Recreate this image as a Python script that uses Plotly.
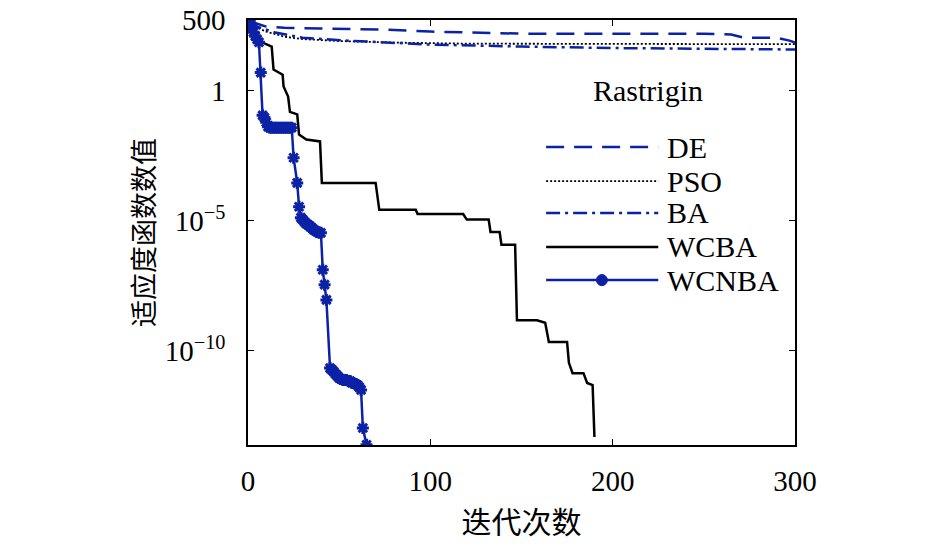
import plotly.graph_objects as go

# convergence curves (Rastrigin)
de_iter = [1, 5, 10, 20, 40, 75, 100, 120, 150, 250, 265, 272, 290, 297, 300]
de_val = [500, 360, 280, 255, 235, 215, 180, 165, 150, 150, 138, 105, 105, 81, 68]

pso_iter = [1, 5, 10, 20, 30, 50, 80, 120, 300]
pso_val = [500, 255, 180, 115, 93, 78, 68, 62, 59]

ba_iter = [1, 5, 15, 30, 55, 75, 100, 150, 200, 300]
ba_val = [500, 280, 165, 105, 81, 68, 57, 48, 42, 37]

wcba_iter = [1, 8, 13, 14, 19, 19.5, 22, 23, 27, 28, 32, 39.5, 40.5, 70, 72, 92, 93,
             118, 120, 132, 133, 138, 139, 146.5, 147.5, 158.5, 163, 165, 175, 176,
             178, 184, 186, 189, 190]
wcba_val = [500, 68, 48, 6.3, 4.0, 1.4, 0.58, 0.15, 0.12, 0.02, 0.013, 0.011, 2.8e-4,
            2.8e-4, 2.6e-5, 2.6e-5, 1.8e-5, 1.8e-5, 1.1e-5, 1.1e-5, 3.7e-6, 3.7e-6,
            1.2e-6, 1.2e-6, 1.5e-9, 1.5e-9, 1.2e-9, 2.2e-10, 2.2e-10, 3.5e-11,
            1.4e-11, 1.4e-11, 5.9e-12, 4.9e-12, 5e-14]

wcnba_iter = [1, 2, 3, 4, 5, 6, 7, 8, 9, 10, 11, 12, 13, 14, 15, 16, 17, 18, 19, 20,
              21, 22, 23, 24, 25, 27, 28, 29, 30, 31, 32, 33, 34, 35, 36, 37, 38, 39,
              40, 41, 42, 43, 45, 46, 47, 48, 49, 50, 51, 52, 53, 54, 55, 56, 57, 58,
              59, 60, 61, 62, 63, 65]
wcnba_val = [500, 250, 170, 120, 90, 70, 4.8, 0.11, 0.09, 0.06, 0.04, 0.037, 0.037,
             0.037, 0.037, 0.037, 0.037, 0.037, 0.037, 0.037, 0.037, 0.037, 0.037,
             0.037, 0.0026, 2.8e-4, 3.4e-5, 1.3e-5, 1.1e-5, 9.0e-6, 7.6e-6, 6.9e-6,
             6.0e-6, 5.3e-6, 4.5e-6, 4.1e-6, 3.7e-6, 3.4e-6, 3.4e-6, 1.3e-7, 3.5e-8,
             9.1e-9, 2.2e-11, 1.9e-11, 1.6e-11, 1.3e-11, 1.1e-11, 9.2e-12, 8.4e-12,
             7.7e-12, 7.7e-12, 7.7e-12, 7.0e-12, 7.0e-12, 5.9e-12, 5.9e-12, 5.4e-12,
             4.9e-12, 4.1e-12, 3.2e-12, 1.1e-13, 2.5e-14]

ytick_vals = [1e-10, 1e-5, 1, 500]
ytick_text = ["10<sup>−10</sup>", "10<sup>−5</sup>", "1", "500"]
xtick_vals = [0, 100, 200, 300]

BLUE = "#0c22a6"
SERIF = "Liberation Serif, Times New Roman, serif"
CJK = "Noto Sans CJK SC"

styles = {
    "DE": dict(color=BLUE, width=2.5, dash="18px,10px"),
    "PSO": dict(color="black", width=1.8, dash="2px,2px"),
    "BA": dict(color=BLUE, width=2.5, dash="14px,5px,3px,5px"),
    "WCBA": dict(color="black", width=2.5),
    "WCNBA": dict(color=BLUE, width=2.5),
}

fig = go.Figure()

fig.add_trace(go.Scatter(x=de_iter, y=de_val, mode="lines", name="DE", line=styles["DE"]))
fig.add_trace(go.Scatter(x=pso_iter, y=pso_val, mode="lines", name="PSO", line=styles["PSO"]))
fig.add_trace(go.Scatter(x=ba_iter, y=ba_val, mode="lines", name="BA", line=styles["BA"]))
fig.add_trace(go.Scatter(x=wcba_iter, y=wcba_val, mode="lines", name="WCBA",
                         line=styles["WCBA"]))
fig.add_trace(go.Scatter(x=wcnba_iter, y=wcnba_val, mode="lines+markers", name="WCNBA",
                         line=styles["WCNBA"],
                         marker=dict(symbol="asterisk-open", size=10, color=BLUE,
                                     line=dict(color=BLUE, width=3))))

fig.add_annotation(x=0.731, y=0.833, xref="paper", yref="paper", text="Rastrigin",
                   showarrow=False, xanchor="center", yanchor="middle",
                   font=dict(family=SERIF, size=30, color="black"))

# hand-drawn legend box (long line samples like the original)
legend_y = [0.701, 0.621, 0.546, 0.466, 0.388]
for name, ly in zip(styles, legend_y):
    fig.add_shape(type="line", xref="paper", yref="paper", x0=0.545, x1=0.750,
                  y0=ly, y1=ly, line=styles[name])
    fig.add_annotation(x=0.762, y=ly, xref="paper", yref="paper", text=name,
                       showarrow=False, xanchor="left", yanchor="middle",
                       font=dict(family=SERIF, size=30, color="black"))
fig.add_shape(type="circle", xref="paper", yref="paper", x0=0.637, x1=0.657,
              y0=legend_y[-1] - 0.013, y1=legend_y[-1] + 0.013,
              fillcolor=BLUE, line=dict(color=BLUE, width=1))

fig.update_layout(
    width=946, height=546,
    margin=dict(l=248, r=151, t=20, b=101),
    plot_bgcolor="white", paper_bgcolor="white",
    showlegend=False,
)

fig.update_xaxes(
    range=[0, 300], tickvals=xtick_vals, ticks="inside", ticklen=6,
    tickcolor="black", showline=True, linecolor="black", linewidth=1.5,
    mirror="ticks", showgrid=False, zeroline=False, automargin=False,
    tickfont=dict(family=SERIF, size=29, color="black"), ticklabelstandoff=9,
    title=dict(text="迭代次数", font=dict(family=CJK, size=30, color="black"),
               standoff=16),
)
fig.update_yaxes(
    type="log", range=[-13.61, 2.70], tickvals=ytick_vals, ticktext=ytick_text,
    ticks="inside", ticklen=6, tickcolor="black", showline=True,
    linecolor="black", linewidth=1.5, mirror="ticks", showgrid=False,
    zeroline=False, automargin=False, ticklabeloverflow="allow",
    tickfont=dict(family=SERIF, size=29, color="black"), ticklabelstandoff=15,
    title=dict(text="适应度函数数值", font=dict(family=CJK, size=27, color="black"),
               standoff=2),
)

# drop the page's default body margin so the figure sits at the window corner
fig.write_html("out.html", config={"displayModeBar": False},
               post_script="document.body.style.margin = '0';")
